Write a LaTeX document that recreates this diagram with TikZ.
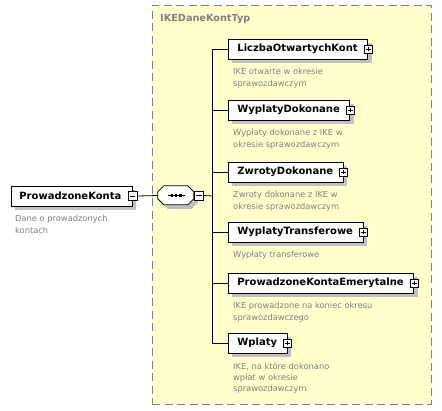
\documentclass[tikz,border=0pt]{standalone}
\usepackage{fontspec}
\setmainfont{DejaVu Sans}
\usepackage{tikz}
\usetikzlibrary{positioning, shadows}
\usepackage{xcolor}
\definecolor{typyellow}{RGB}{255,255,204}
\definecolor{framegray}{RGB}{128,128,128}
\definecolor{shadegray}{RGB}{192,192,192}
\definecolor{notegray}{RGB}{128,128,128}

\begin{document}
\begin{tikzpicture}[x=1pt, y=-1pt,
    elem/.style={draw, fill=white, line width=0.8pt, minimum height=20pt, inner sep=0pt, anchor=west,
        font=\fontsize{10}{12}\selectfont\bfseries,
        general shadow={fill=shadegray, shadow xshift=4pt, shadow yshift=-4pt}},
    plusbox/.style={draw, fill=white, line width=0.6pt, minimum size=8pt, inner sep=0pt,
        path picture={
            \draw[line width=0.6pt, shorten <=1.6pt, shorten >=1.6pt] (path picture bounding box.north) -- (path picture bounding box.south);
            \draw[line width=0.6pt, shorten <=1.6pt, shorten >=1.6pt] (path picture bounding box.west) -- (path picture bounding box.east);}},
    minusbox/.style={draw, fill=white, line width=0.6pt, minimum size=9pt, inner sep=0pt,
        path picture={
            \draw[line width=0.6pt, shorten <=1.8pt, shorten >=1.8pt] (path picture bounding box.west) -- (path picture bounding box.east);}},
    seqbox/.style={minimum width=36pt, minimum height=19pt, inner sep=0pt},
    octshade/.style={fill=shadegray},
    octface/.style={draw, fill=white, line width=0.8pt},
    note/.style={anchor=north west, align=left, inner sep=0pt, text=notegray,
        font=\fontsize{8.3}{11.3}\selectfont},
    container/.style={draw=framegray, dashed, dash pattern=on 8pt off 4.5pt, line width=1pt, fill=typyellow,
        minimum width=279pt, minimum height=399pt, inner sep=0pt},
    link/.style={line width=0.8pt}
]
    \useasboundingbox (0,0) rectangle (442,410);

    % typ zlozony
    \node[container] (typ) at (291.5,204.5) {};
    \node[anchor=north west, inner sep=0pt, text=framegray, font=\fontsize{9.7}{12}\selectfont\bfseries] (typ-t) at (160,14) {IKEDaneKontTyp};

    % element glowny
    \node[elem] (root) at (11,196) {\kern8pt ProwadzoneKonta\kern11pt};
    \node[minusbox] (root-m) at (root.east) {};
    \node[note, below right=9pt and 4pt of root.south west] (root-d) {Dane o prowadzonych\\kontach};

    % sekwencja (osmiokat z cieniem)
    \node[seqbox] (seq) at (176,195.5) {};
    \foreach \d/\st in {4/octshade, 0/octface}
        \path[\st] ([shift={(6+\d,\d)}]seq.north west) -- ([shift={(30+\d,\d)}]seq.north west)
            -- ([shift={(36+\d,6+\d)}]seq.north west) -- ([shift={(36+\d,13+\d)}]seq.north west)
            -- ([shift={(30+\d,19+\d)}]seq.north west) -- ([shift={(6+\d,19+\d)}]seq.north west)
            -- ([shift={(\d,13+\d)}]seq.north west) -- ([shift={(\d,6+\d)}]seq.north west) -- cycle;
    \draw[line width=0.8pt] ([xshift=-8.5pt]seq.center) -- ([xshift=8.5pt]seq.center);
    \foreach \dx in {-4.2,0,4.2}
        \fill ([xshift=\dx pt]seq.center) +(-1.3,-1.3) rectangle +(1.3,1.3);
    \node[minusbox, right=0pt of seq] (seq-m) {};
    \coordinate (spine) at (212,196);

    % elementy potomne
    \node[elem] (liczba) at (228,49) {\kern9pt LiczbaOtwartychKont\kern10pt};
    \node[plusbox] (liczba-p) at (liczba.east) {};
    \node[note, below right=9pt and 5pt of liczba.south west] (liczba-d) {IKE otwarte w okresie\\sprawozdawczym};

    \node[elem] (wyplaty) at (228,110) {\kern9pt WyplatyDokonane\kern10pt};
    \node[plusbox] (wyplaty-p) at (wyplaty.east) {};
    \node[note, below right=9pt and 5pt of wyplaty.south west] (wyplaty-d) {Wypłaty dokonane z IKE w\\okresie sprawozdawczym};

    \node[elem] (zwroty) at (228,172) {\kern9pt ZwrotyDokonane\kern10pt};
    \node[plusbox] (zwroty-p) at (zwroty.east) {};
    \node[note, below right=9pt and 5pt of zwroty.south west] (zwroty-d) {Zwroty dokonane z IKE w\\okresie sprawozdawczym};

    \node[elem] (transfer) at (228,232) {\kern9pt WyplatyTransferowe\kern10pt};
    \node[plusbox] (transfer-p) at (transfer.east) {};
    \node[note, below right=9pt and 5pt of transfer.south west] (transfer-d) {Wypłaty transferowe};

    \node[elem] (emeryt) at (228,283) {\kern9pt ProwadzoneKontaEmerytalne\kern10pt};
    \node[plusbox] (emeryt-p) at (emeryt.east) {};
    \node[note, below right=9pt and 5pt of emeryt.south west] (emeryt-d) {IKE prowadzone na koniec okresu\\sprawozdawczego};

    \node[elem] (wplaty) at (228,343) {\kern9pt Wplaty\kern10pt};
    \node[plusbox] (wplaty-p) at (wplaty.east) {};
    \node[note, below right=9pt and 5pt of wplaty.south west] (wplaty-d) {IKE, na które dokonano\\wpłat w okresie\\sprawozdawczym};

    % polaczenia
    \draw[link] (root-m.east) -- (seq.west);
    \draw[link] (seq-m.east) -- (spine);
    \draw[link] (spine |- liczba.west) -- (spine |- wplaty.west);
    \foreach \n in {liczba, wyplaty, zwroty, transfer, emeryt, wplaty}
        \draw[link] (spine |- \n.west) -- (\n.west);
\end{tikzpicture}
\end{document}
